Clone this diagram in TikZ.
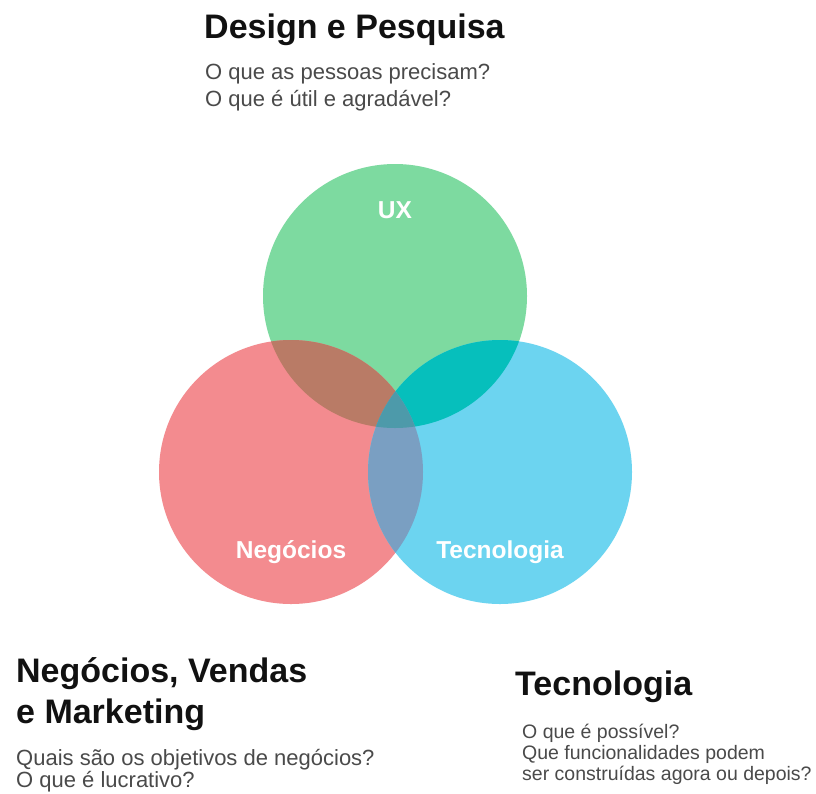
\documentclass[tikz,border=0pt]{standalone}
\usepackage{fontspec}
\setmainfont{Liberation Sans}
\begin{document}
\definecolor{uxgreen}{HTML}{7DDAA0}
\definecolor{negred}{HTML}{F38B8F}
\definecolor{tecblue}{HTML}{6CD4F0}
\definecolor{gr}{HTML}{B97B66}
\definecolor{gb}{HTML}{06BFBC}
\definecolor{rb}{HTML}{7A9FC2}
\definecolor{grb}{HTML}{4D9AAA}
\definecolor{headc}{HTML}{111111}
\definecolor{subc}{HTML}{4A4A4A}
\begin{tikzpicture}[x=1pt,y=-1pt,
  head/.style={anchor=base west,inner sep=0pt,text=headc,font=\fontsize{34}{40}\selectfont\bfseries},
  sub/.style={anchor=base west,inner sep=0pt,text=subc,font=\fontsize{22}{26}\selectfont},
  subsmall/.style={anchor=base west,inner sep=0pt,text=subc,font=\fontsize{19.5}{22}\selectfont},
  inlabel/.style={anchor=base,inner sep=0pt,text=white,font=\fontsize{24.5}{28}\selectfont\bfseries},
  ring/.style={circle,minimum size=264pt,inner sep=0pt}]
\useasboundingbox[fill=white] (0,0) rectangle (816,793);

% circle centres
\node[ring] (ux) at (395,296) {};
\node[ring] (neg) at (291,472) {};
\node[ring] (tec) at (500,472) {};

% plain discs
\fill[uxgreen] (ux.center) circle (132pt);
\fill[negred] (neg.center) circle (132pt);
\fill[tecblue] (tec.center) circle (132pt);

% pairwise overlaps
\begin{scope}
  \clip (ux.center) circle (132pt);
  \fill[gr] (neg.center) circle (132pt);
  \fill[gb] (tec.center) circle (132pt);
\end{scope}
\begin{scope}
  \clip (neg.center) circle (132pt);
  \fill[rb] (tec.center) circle (132pt);
\end{scope}
% centre of all three
\begin{scope}
  \clip (ux.center) circle (132pt);
  \clip (neg.center) circle (132pt);
  \fill[grb] (tec.center) circle (132pt);
\end{scope}

% labels inside the circles
\node[inlabel] (uxl) at (395,218) {UX};
\node[inlabel] (negl) at (291,558) {Negócios};
\node[inlabel] (tecl) at (500,558) {Tecnologia};

% design block
\node[head] (dt) at (204,38) {Design e Pesquisa};
\node[sub] (d1) at (205,79) {O que as pessoas precisam?};
\node[sub] (d2) at (205,106) {O que é útil e agradável?};

% business block
\node[head] (nt1) at (16,682) {Negócios, Vendas};
\node[head] (nt2) at (16,723) {e Marketing};
\node[sub] (n1) at (16,765) {Quais são os objetivos de negócios?};
\node[sub] (n2) at (16,787) {O que é lucrativo?};

% technology block
\node[head] (tt) at (515,695) {Tecnologia};
\node[subsmall] (t1) at (522,738) {O que é possível?};
\node[subsmall] (t2) at (522,759) {Que funcionalidades podem};
\node[subsmall] (t3) at (522,780) {ser construídas agora ou depois?};
\end{tikzpicture}
\end{document}
